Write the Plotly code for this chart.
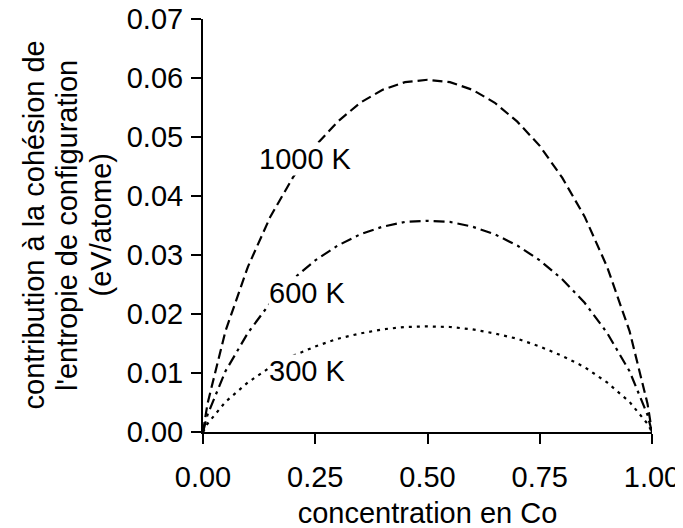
import plotly.graph_objects as go

conc = [0, 0.01, 0.05, 0.10, 0.15, 0.20, 0.25, 0.30, 0.35, 0.40, 0.45, 0.50,
        0.55, 0.60, 0.65, 0.70, 0.75, 0.80, 0.85, 0.90, 0.95, 0.99, 1.0]
t1000 = [0, 0.0048, 0.0171, 0.0280, 0.0365, 0.0431, 0.0485, 0.0526, 0.0558, 0.0580, 0.0593, 0.0597,
         0.0593, 0.0580, 0.0558, 0.0526, 0.0485, 0.0431, 0.0365, 0.0280, 0.0171, 0.0048, 0]
t600 = [0, 0.0029, 0.0103, 0.0168, 0.0219, 0.0259, 0.0291, 0.0316, 0.0335, 0.0348, 0.0356, 0.0358,
        0.0356, 0.0348, 0.0335, 0.0316, 0.0291, 0.0259, 0.0219, 0.0168, 0.0103, 0.0029, 0]
t300 = [0, 0.0014, 0.0051, 0.0084, 0.0110, 0.0129, 0.0145, 0.0158, 0.0167, 0.0174, 0.0178, 0.0179,
        0.0178, 0.0174, 0.0167, 0.0158, 0.0145, 0.0129, 0.0110, 0.0084, 0.0051, 0.0014, 0]

labels = ["1000 K", "600 K", "300 K"]
label_x = [0.122, 0.144, 0.144]
label_y = [0.0462, 0.0236, 0.0103]

ytitle_lines = ["contribution à la cohésion de", "l'entropie de configuration", "(eV/atome)"]
xtitle = "concentration en Co"

FONT = "Liberation Sans, Arial, sans-serif"
FS = 29

# page body adds an 8px offset; compensate in margins
L, R, T, B = 195, 39, 11, 104
PW = 683 - L - R

fig = go.Figure()
fig.add_trace(go.Scatter(x=conc, y=t1000, mode="lines",
                         line=dict(color="black", width=2.2, dash="10px,5px")))
fig.add_trace(go.Scatter(x=conc, y=t600, mode="lines",
                         line=dict(color="black", width=2.2, dash="11px,5px,3px,5px")))
fig.add_trace(go.Scatter(x=conc, y=t300, mode="lines",
                         line=dict(color="black", width=2.2, dash="3px,5px")))

for t, x, y in zip(labels, label_x, label_y):
    fig.add_annotation(x=x, y=y, text=t, showarrow=False, xanchor="left", yanchor="middle",
                       bgcolor="white", borderpad=0,
                       font=dict(family=FONT, size=FS, color="black"))

# y-axis title as three rotated lines (tighter line spacing than default)
for i, line in enumerate(ytitle_lines):
    px = 25 + 33.5 * i  # centre of line, in div pixels
    fig.add_annotation(xref="paper", yref="paper", x=(px - L) / PW, y=0.5,
                       xanchor="center", yanchor="middle", text=line, textangle=-90,
                       showarrow=False, font=dict(family=FONT, size=FS, color="black"))

fig.update_layout(
    width=683, height=528,
    margin=dict(l=L, r=R, t=T, b=B, autoexpand=False),
    paper_bgcolor="white", plot_bgcolor="white",
    showlegend=False,
    font=dict(family=FONT, size=FS, color="black"),
)
fig.update_xaxes(range=[0, 1], tickvals=[0, 0.25, 0.5, 0.75, 1.0], tickformat=".2f",
                 automargin=False, ticklabelstandoff=8, ticklabeloverflow="allow",
                 showline=True, linecolor="black", linewidth=2, showgrid=False, zeroline=False,
                 ticks="outside", ticklen=10, tickwidth=2, tickcolor="black",
                 title=dict(text=xtitle, standoff=11, font=dict(family=FONT, size=FS)))
fig.update_yaxes(range=[0, 0.07], dtick=0.01, tickformat=".2f",
                 automargin=False, ticklabelstandoff=2, ticklabeloverflow="allow",
                 showline=True, linecolor="black", linewidth=2, showgrid=False, zeroline=False,
                 ticks="outside", ticklen=10, tickwidth=2, tickcolor="black")

fig.write_html("out.html")
